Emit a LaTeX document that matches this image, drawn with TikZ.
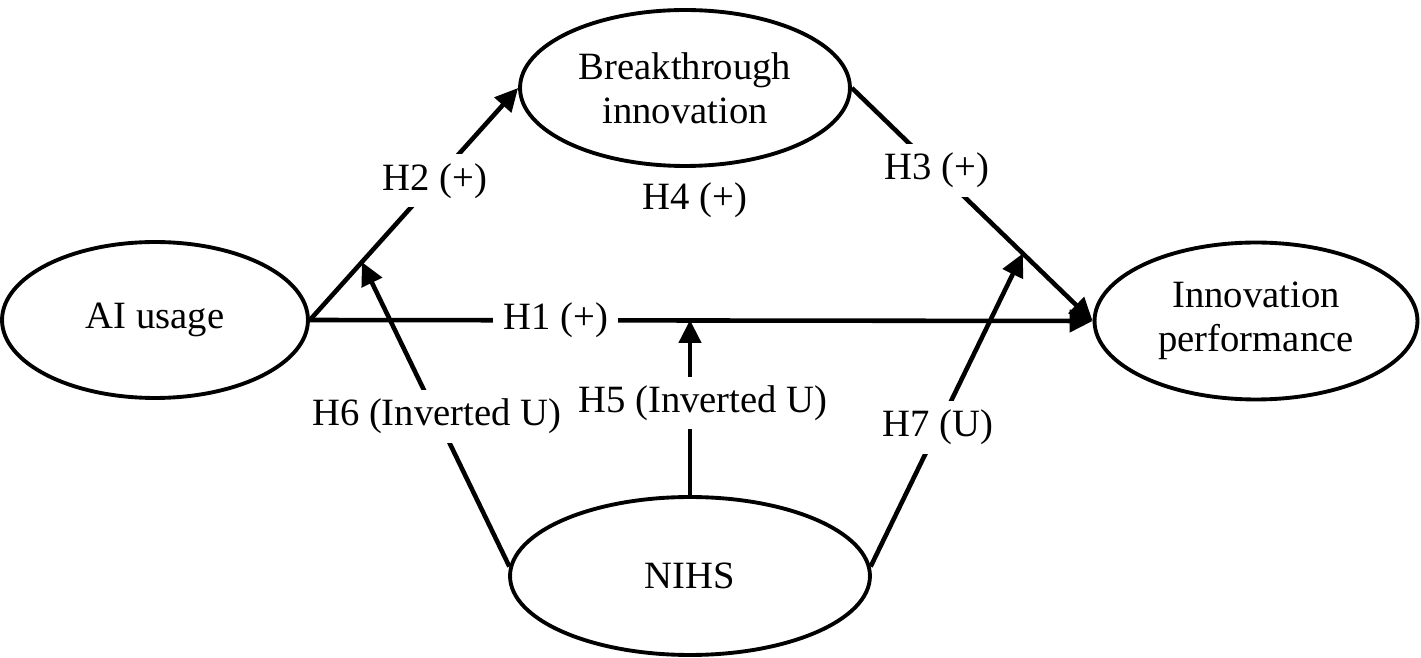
\documentclass[tikz,border=0pt]{standalone}
\usepackage{fontspec}
\setmainfont{Liberation Serif}
\usetikzlibrary{shapes.geometric,arrows.meta,calc}

\begin{document}
\begin{tikzpicture}[x=0.02cm,y=-0.02cm,
  latent/.style={ellipse,draw,line width=2.2pt,inner sep=0pt,align=center,font=\fontsize{22}{25}\selectfont},
  path/.style={line width=2.6pt,-{Triangle[length=0.46cm,width=0.44cm]}},
  hyp/.style={fill=white,inner xsep=6pt,inner ysep=5pt,font=\fontsize{22}{26}\selectfont}]

\useasboundingbox (0,0) rectangle (1421,658);

% constructs
\node[latent,minimum width=6.12cm,minimum height=3.12cm] (ai) at (155,320) {AI usage};
\node[latent,minimum width=6.6cm,minimum height=3.12cm] (bi) at (685,88) {Breakthrough\\innovation};
\node[latent,minimum width=6.46cm,minimum height=3.14cm] (ip) at (1256,321) {Innovation\\performance};
\node[latent,minimum width=7.2cm,minimum height=3.16cm] (nihs) at (690,576) {NIHS};

% points on the paths that NIHS moderates
\coordinate (m2) at ($(ai.east)!0.25!(bi.west)$);
\coordinate (m1) at (nihs.north |- ai.east);
\coordinate (m3) at ($(bi.east)!0.71!(ip.west)$);

% main paths
\draw[path] (ai.east) -- node[hyp,pos=0.6] {H2 (+)} (bi.west);
\draw[path] (ai.east) -- node[hyp,pos=0.314] {H1 (+)} (ip.west);
\draw[path] (bi.east) -- node[hyp,pos=0.353] {H3 (+)} (ip.west);
\node[hyp] (h4) at (695,200) {H4 (+)};

% moderation
\draw[path] (nihs.177) -- node[hyp,pos=0.493] {H6 (Inverted U)} (m2);
\draw[path] (nihs.north) -- node[hyp,pos=0.525,xshift=0.26cm] {H5 (Inverted U)} (m1);
\draw[path] (nihs.3) -- node[hyp,pos=0.444] {H7 (U)} (m3);

\end{tikzpicture}
\end{document}
